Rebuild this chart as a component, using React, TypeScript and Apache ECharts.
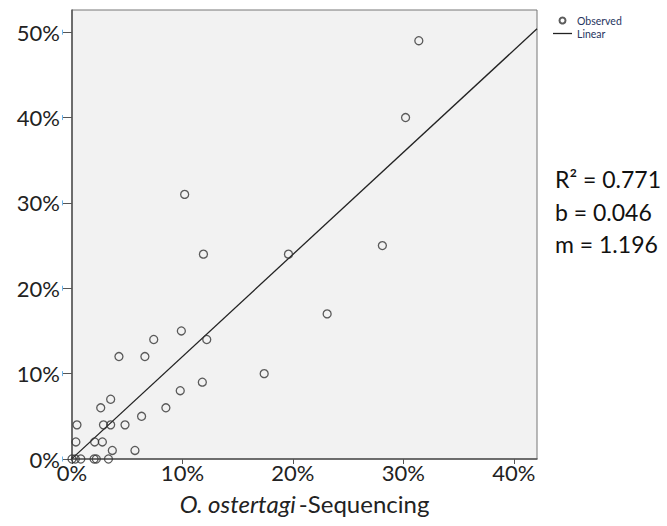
import React, { useEffect, useRef } from "react";
import * as echarts from "echarts";

// Observed values (percent)
const sequencingX: number[] = [
  31.4, 30.2, 28.1, 19.6, 11.9, 10.2, 23.1, 9.9, 7.4, 12.2, 17.4, 11.8, 9.8, 8.5,
  4.25, 6.6, 3.5, 2.6, 6.3, 0.45, 2.85, 3.5, 4.8, 0.35, 2.05, 2.75, 3.65, 5.7,
  0, 0.3, 0.8, 2.0, 2.2, 3.3,
];
const observedY: number[] = [
  49, 40, 25, 24, 24, 31, 17, 15, 14, 14, 10, 9, 8, 6,
  12, 12, 7, 6, 5, 4, 4, 4, 4, 2, 2, 2, 1, 1,
  0, 0, 0, 0, 0, 0,
];
const xTicks: number[] = [0, 10, 20, 30, 40];
const yTicks: number[] = [0, 10, 20, 30, 40, 50];
const fitR2 = 0.771;
const fitB = 0.046;
const fitM = 1.196;
const xMax = 42.1;
const yMax = 52.6;

const FONT = "Lato, 'Open Sans', sans-serif";

export default function App() {
  const ref = useRef<HTMLDivElement>(null);
  useEffect(() => {
    if (!ref.current) return;
    const chart = echarts.init(ref.current, undefined, { renderer: "svg" });
    const points = sequencingX.map((x, i) => [x, observedY[i]]);
    const linePts = [
      [0, fitB],
      [xMax, fitB + fitM * xMax],
    ];
    const statStyle = { fontSize: 23, fill: "#111", fontFamily: FONT, verticalAlign: "middle" as const };
    const statTexts = [
      { type: "text", x: 555, y: 179, style: { ...statStyle, text: `R² = ${fitR2}` } },
      { type: "text", x: 555, y: 212, style: { ...statStyle, text: `b = ${fitB.toFixed(3)}` } },
      { type: "text", x: 555, y: 244, style: { ...statStyle, text: `m = ${fitM.toFixed(3)}` } },
    ];
    chart.setOption({
      animation: false,
      textStyle: { fontFamily: FONT },
      grid: {
        left: 72,
        right: 130,
        top: 10,
        bottom: 67,
        show: true,
        backgroundColor: "#f2f2f2",
        borderColor: "#777",
        borderWidth: 1,
      },
      legend: {
        orient: "vertical",
        left: 548,
        top: 10,
        itemGap: 2,
        itemWidth: 19,
        itemHeight: 6,
        textStyle: { fontSize: 10.5, color: "#26355e", fontFamily: FONT },
        data: [
          { name: "Observed" },
          { name: "Linear", icon: "path://M0,0L19,0L19,1.3L0,1.3Z", itemStyle: { color: "#222" } },
        ],
      },
      xAxis: {
        type: "value",
        min: 0,
        max: xMax,
        interval: 10,
        splitLine: { show: false },
        axisLine: { show: true, lineStyle: { color: "#555", width: 1.5 } },
        axisTick: { show: true, customValues: xTicks, length: 5, lineStyle: { color: "#555" } },
        axisLabel: {
          customValues: xTicks,
          formatter: (v: number) => `${v}%`,
          fontSize: 22,
          color: "#222",
          margin: 2,
          fontFamily: FONT,
        },
        name: "{i|O. ostertagi} {n|-Sequencing}",
        nameLocation: "middle",
        nameGap: 32,
        nameTextStyle: {
          rich: {
            i: { fontSize: 24, fontStyle: "italic", color: "#222", fontFamily: FONT },
            n: { fontSize: 24, color: "#222", fontFamily: FONT },
          },
        },
      },
      yAxis: {
        type: "value",
        min: 0,
        max: yMax,
        interval: 10,
        splitLine: { show: false },
        axisLine: { show: true, lineStyle: { color: "#555", width: 1.5 } },
        axisTick: { show: true, customValues: yTicks, length: 9, lineStyle: { color: "#555" } },
        axisLabel: {
          customValues: yTicks,
          formatter: (v: number) => `${v}%`,
          fontSize: 22,
          color: "#222",
          margin: 12,
          fontFamily: FONT,
        },
      },
      series: [
        {
          name: "Observed",
          type: "scatter",
          data: points,
          symbol: "circle",
          symbolSize: 8,
          itemStyle: { color: "rgba(0,0,0,0)", borderColor: "#333", borderWidth: 1.3 },
          z: 3,
        },
        {
          name: "Linear",
          type: "line",
          data: linePts,
          symbol: "none",
          color: "#222",
          itemStyle: { color: "#222" },
          lineStyle: { color: "#222", width: 1.3 },
          z: 2,
        },
      ],
      graphic: statTexts,
    });
    // small light-blue marks at the outer end of each y tick, placed through the axis scale
    const marks = yTicks.map((v) => {
      const p = chart.convertToPixel({ gridIndex: 0 }, [0, v]) as number[];
      return {
        type: "line",
        shape: { x1: 62.5, y1: p[1] - 2.5, x2: 62.5, y2: p[1] + 2.5 },
        style: { stroke: "#6db3e8", lineWidth: 1 },
      };
    });
    chart.setOption({ graphic: [...statTexts, ...marks] });
    return () => chart.dispose();
  }, []);
  return <div ref={ref} style={{ width: 667, height: 526, position: "absolute", left: 0, top: 0 }} />;
}
